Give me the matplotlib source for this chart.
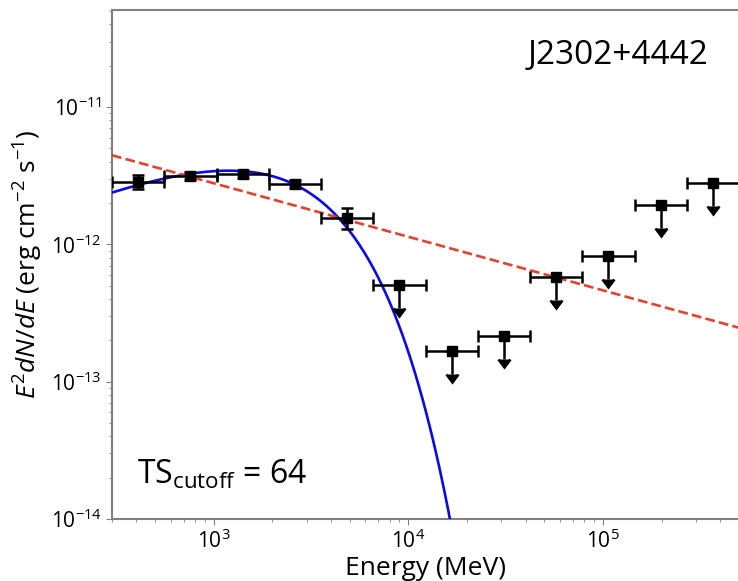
import numpy as np
import matplotlib
matplotlib.use('Agg')
import matplotlib.pyplot as plt

plt.rcParams['font.family'] = ['Open Sans', 'DejaVu Sans']
plt.rcParams['mathtext.fontset'] = 'custom'
plt.rcParams['mathtext.rm'] = 'Open Sans'
plt.rcParams['mathtext.it'] = 'Open Sans:italic'
plt.rcParams['mathtext.bf'] = 'Open Sans:bold'

# SED bins (MeV)
bin_edges = [300, 557, 1033, 1917, 3557, 6601, 12251, 22733, 42187, 78290, 145270, 269620, 500000]
energy = [409, 758, 1407, 2611, 4846, 8992, 16688, 30967, 57460, 106640, 197900, 367200]

# detected bins: E^2 dN/dE (erg cm-2 s-1) with errors
det_idx = [0, 1, 2, 3, 4]
det_flux = [2.87e-12, 3.15e-12, 3.24e-12, 2.77e-12, 1.57e-12]
det_err_lo = [0.35e-12, 0.2e-12, 0.2e-12, 0.2e-12, 0.27e-12]
det_err_hi = [0.32e-12, 0.2e-12, 0.2e-12, 0.2e-12, 0.28e-12]

# upper limits
ul_idx = [5, 6, 7, 8, 9, 10, 11]
ul_flux = [5.1e-13, 1.68e-13, 2.14e-13, 5.81e-13, 8.17e-13, 1.93e-12, 2.82e-12]

# spectral models
plec_norm, plec_index, plec_cutoff = 5.55e-12, 1.42, 2060.0   # E0 = 1 GeV
pl_norm, pl_index = 2.79e-12, 2.39

yticks = [1e-14, 1e-13, 1e-12, 1e-11]

fig = plt.figure(figsize=(7.38, 5.81), dpi=100)
ax = fig.add_axes([112 / 738, 62 / 581, 627 / 738, 509 / 581])

def xerrs(idx):
    lo = [energy[i] - bin_edges[i] for i in idx]
    hi = [bin_edges[i + 1] - energy[i] for i in idx]
    return [lo, hi]

ax.errorbar([energy[i] for i in det_idx], det_flux, xerr=xerrs(det_idx),
            yerr=[det_err_lo, det_err_hi], fmt='s', color='black', ms=7,
            elinewidth=1.8, capsize=4, capthick=1.8, zorder=4)

ul_flux = np.array(ul_flux)
ax.errorbar([energy[i] for i in ul_idx], ul_flux, xerr=xerrs(ul_idx),
            yerr=ul_flux * 0.32, uplims=True, fmt='s', color='black', ms=7,
            elinewidth=1.8, capsize=4, capthick=1.8, zorder=4)

e = np.logspace(np.log10(300), np.log10(5e5), 600)
plec = plec_norm * (e / 1000.0) ** (2 - plec_index) * np.exp(-e / plec_cutoff)
pl = pl_norm * (e / 1000.0) ** (2 - pl_index)
ax.plot(e, plec, color='#0a0ae6', lw=1.9, zorder=3)
ax.plot(e, pl, color='#e5412f', lw=1.9, ls='--', zorder=3)

ax.set_xscale('log')
ax.set_yscale('log')
ax.set_xlim(300, 5e5)
ax.set_ylim(1e-14, 5.1e-11)
ax.set_yticks(yticks)

for s in ax.spines.values():
    s.set_color('#808080')
    s.set_linewidth(1.5)
ax.spines['right'].set_visible(False)
ax.tick_params(which='both', colors='#808080', labelcolor='black', labelsize=15)
ax.tick_params(which='major', length=4)
ax.tick_params(which='minor', length=2.5)

ax.set_xlabel('Energy (MeV)', fontsize=19, labelpad=2)
ax.set_ylabel(r'$E^2dN/dE$ (erg cm$^{-2}$ s$^{-1}$)', fontsize=19, labelpad=4)

ax.text(0.663, 0.893, 'J2302+4442', transform=ax.transAxes, fontsize=24)
ax.text(0.04, 0.07, r'TS$_{\mathrm{cutoff}}$ = 64', transform=ax.transAxes, fontsize=23)

fig.savefig('out.png', dpi=100)
